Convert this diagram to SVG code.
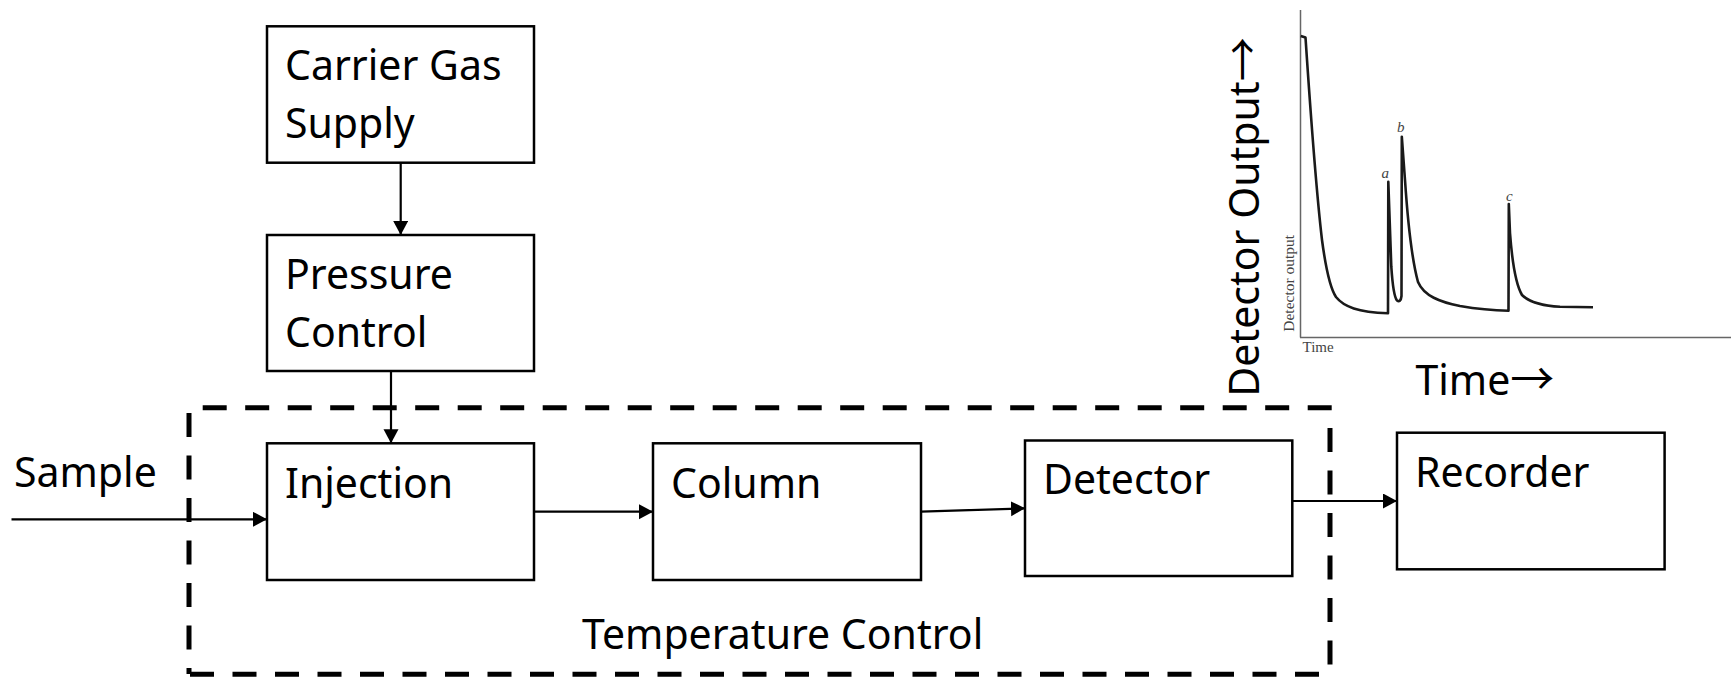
<svg xmlns="http://www.w3.org/2000/svg" width="1731" height="677" viewBox="0 0 1731 677">
<defs>
<style>
.box{fill:#fff;stroke:#000;stroke-width:2.5}
.lbl{font-family:"Noto Sans","Open Sans","Liberation Sans",sans-serif;font-size:41px;fill:#000}
.arr{font-family:"Noto Sans CJK JP","DejaVu Sans",sans-serif;font-size:44px}
.con{stroke:#000;stroke-width:2.2;fill:none}
.dash{stroke:#000;stroke-width:5;fill:none;stroke-dasharray:24 18.5}
.ser{font-family:"Liberation Serif","DejaVu Serif",serif;fill:#444}
</style>
<marker id="ah" markerUnits="userSpaceOnUse" markerWidth="15" markerHeight="16" refX="14" refY="7.5" orient="auto">
<path d="M0,0 L14,7.5 L0,15 z" fill="#000"/>
</marker>
</defs>
<rect width="1731" height="677" fill="#fff"/>

<g id="temperature-control">
<line class="dash" x1="202.7" y1="407.7" x2="1333" y2="407.7"/>
<line class="dash" x1="189" y1="413" x2="189" y2="674"/>
<line class="dash" x1="190" y1="674.3" x2="1320" y2="674.3"/>
<line class="dash" x1="1330" y1="428" x2="1330" y2="674"/>
<text class="lbl" x="582" y="649">Temperature Control</text>
</g>

<g id="carrier-gas">
<rect class="box" x="267" y="26.3" width="267" height="136.4"/>
<text class="lbl" x="285" y="80">Carrier Gas</text>
<text class="lbl" x="285" y="137.5">Supply</text>
</g>
<g id="pressure-control">
<rect class="box" x="267" y="235" width="267" height="136"/>
<text class="lbl" x="285" y="289">Pressure</text>
<text class="lbl" x="285" y="346.5">Control</text>
</g>
<g id="injection">
<rect class="box" x="267" y="443.3" width="267" height="136.7"/>
<text class="lbl" x="285" y="497.7">Injection</text>
</g>
<g id="column">
<rect class="box" x="653" y="443.3" width="268" height="136.7"/>
<text class="lbl" x="671" y="497.7">Column</text>
</g>
<g id="detector">
<rect class="box" x="1025" y="440.5" width="267.3" height="135.5"/>
<text class="lbl" x="1043" y="494">Detector</text>
</g>
<g id="recorder">
<rect class="box" x="1397" y="432.7" width="267.6" height="136.6"/>
<text class="lbl" x="1415" y="486.7">Recorder</text>
</g>
<g id="sample">
<text class="lbl" x="14" y="486.7">Sample</text>
</g>

<g id="connectors">
<line class="con" x1="400.7" y1="162.7" x2="400.7" y2="235" marker-end="url(#ah)"/>
<line class="con" x1="391" y1="371" x2="391" y2="443.3" marker-end="url(#ah)"/>
<line class="con" x1="11.5" y1="519.3" x2="267" y2="519.3" marker-end="url(#ah)"/>
<line class="con" x1="534" y1="511.7" x2="653" y2="511.7" marker-end="url(#ah)"/>
<line class="con" x1="921" y1="511.7" x2="1025" y2="508.3" marker-end="url(#ah)"/>
<line class="con" x1="1292.3" y1="501" x2="1397" y2="501" marker-end="url(#ah)"/>
</g>

<g id="chromatogram">
<line x1="1300.5" y1="10" x2="1300.5" y2="337.5" stroke="#666" stroke-width="1.5"/>
<line x1="1300" y1="337.5" x2="1731" y2="337.5" stroke="#666" stroke-width="1.5"/>
<path d="M1300.8,36 L1305.5,37.5 C1309,90 1315,180 1322,240 C1326,270 1330,288 1336,297 C1344,307 1358,312 1388,313.3 L1388.3,181.7 L1391.3,266.7 C1392.5,285 1394,297 1397,300.5 C1399,302 1401,301 1401.5,296 L1401.8,136.7 L1405,180 C1408,225 1412,260 1418,282 C1424,296 1440,302 1460,306 C1480,309.5 1495,310.5 1508.5,310.7 L1508.8,204 L1510,233 C1512,260 1515,283 1522,295 C1530,303 1545,306 1560,306.8 L1593,307.3" fill="none" stroke="#1a1a1a" stroke-width="2.6" stroke-linejoin="round"/>
<text class="ser" x="1381.5" y="178.3" font-size="15" font-style="italic">a</text>
<text class="ser" x="1397" y="132.3" font-size="15" font-style="italic">b</text>
<text class="ser" x="1506" y="201" font-size="15" font-style="italic">c</text>
<text class="ser" font-size="15.5" transform="translate(1293.5,331.7) rotate(-90)">Detector output</text>
<text class="ser" x="1302.5" y="351.7" font-size="15">Time</text>
<text class="lbl" transform="translate(1259,396.7) rotate(-90)">Detector Output<tspan class="arr">→</tspan></text>
<text class="lbl" x="1415.5" y="395">Time<tspan class="arr">→</tspan></text>
</g>
</svg>
